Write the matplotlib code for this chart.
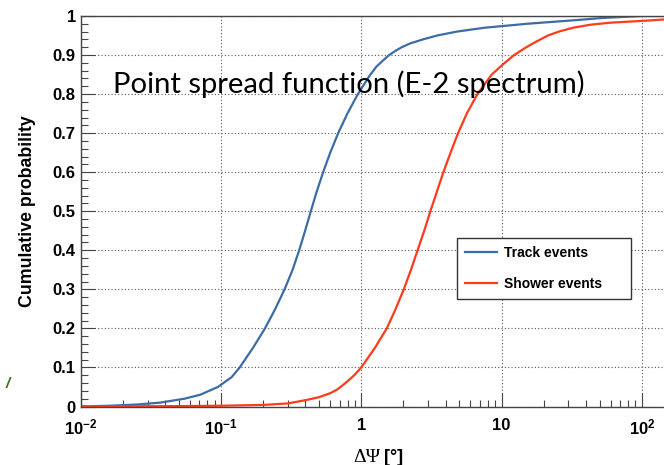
import numpy as np
import matplotlib
matplotlib.use("Agg")
import matplotlib.pyplot as plt
from matplotlib.ticker import FixedLocator, FixedFormatter, MultipleLocator, FuncFormatter

plt.rcParams['font.family'] = ['Liberation Sans', 'DejaVu Sans']
plt.rcParams['mathtext.fontset'] = 'custom'
plt.rcParams['mathtext.rm'] = 'Liberation Sans'
plt.rcParams['mathtext.bf'] = 'Liberation Sans:bold'

# cumulative angular error distributions (deg)
track_psi = [0.01, 0.016, 0.025, 0.037, 0.055, 0.071, 0.095, 0.119, 0.136, 0.169,
             0.206, 0.244, 0.284, 0.324, 0.361, 0.398, 0.437, 0.481, 0.535,
             0.601, 0.685, 0.796, 0.946, 1.16, 1.22, 1.28, 1.37, 1.47, 1.58,
             1.74, 1.94, 2.24, 2.75, 3.47, 4.79, 7.59, 15.1, 35.5, 52.5, 100, 144]
track_prob = [0.0, 0.002, 0.005, 0.01, 0.02, 0.03, 0.05, 0.075, 0.10, 0.15,
              0.20, 0.25, 0.30, 0.35, 0.40, 0.45, 0.50, 0.55, 0.60,
              0.65, 0.70, 0.75, 0.80, 0.85, 0.86, 0.87, 0.88, 0.89, 0.90,
              0.91, 0.92, 0.93, 0.94, 0.95, 0.96, 0.97, 0.98, 0.99, 0.995, 1.0, 1.0]

shower_psi = [0.01, 0.05, 0.1, 0.2, 0.302, 0.41, 0.501, 0.6, 0.67, 0.724, 0.8,
              0.891, 1.0, 1.25, 1.52, 1.76, 2.01, 2.26, 2.52, 2.81, 3.11, 3.46,
              3.85, 4.33, 4.9, 5.65, 6.73, 8.51, 10.3, 12.3, 15.0, 17.8, 21.4,
              26.1, 32.4, 43.7, 60.3, 95.5, 144]
shower_prob = [0.0, 0.001, 0.002, 0.004, 0.008, 0.017, 0.024, 0.034, 0.043,
               0.052, 0.065, 0.08, 0.10, 0.15, 0.20, 0.25, 0.30, 0.35, 0.40,
               0.45, 0.50, 0.55, 0.60, 0.65, 0.70, 0.75, 0.80, 0.85, 0.877,
               0.90, 0.92, 0.935, 0.95, 0.961, 0.97, 0.978, 0.983, 0.987, 0.991]

x_major = [1e-2, 1e-1, 1, 10, 100]
x_major_labels = [r'$\mathbf{10^{-2}}$', r'$\mathbf{10^{-1}}$', '1', '10', r'$\mathbf{10^{2}}$']

fig = plt.figure(figsize=(6.64, 4.65), dpi=100)
ax = fig.add_axes([0.1215, 0.1258, 0.8785, 0.8398])

ax.plot(track_psi, track_prob, color='#3c6ca6', lw=1.6, label='Track events')
ax.plot(shower_psi, shower_prob, color='#ff3b1a', lw=1.6, label='Shower events')

ax.set_xscale('log')
ax.set_xlim(1e-2, 10**2.158)
ax.set_ylim(0, 1)

ax.xaxis.set_major_locator(FixedLocator(x_major))
ax.xaxis.set_major_formatter(FixedFormatter(x_major_labels))
minors = [m * 10.0**e for e in range(-2, 3) for m in range(2, 10)]
ax.xaxis.set_minor_locator(FixedLocator(minors))
ax.xaxis.set_minor_formatter(FuncFormatter(lambda v, p: ''))

ax.yaxis.set_major_locator(MultipleLocator(0.1))
ax.yaxis.set_minor_locator(MultipleLocator(0.02))
ax.yaxis.set_major_formatter(FuncFormatter(lambda v, p: '%g' % round(v, 2)))

ax.tick_params(which='both', direction='in', colors='#444444', labelcolor='black',
               labelsize=12)
ax.tick_params(which='major', length=10, width=0.8)
ax.tick_params(which='minor', length=5, width=0.8)
ax.tick_params(axis='x', which='major', pad=8)
ax.tick_params(axis='y', which='major', pad=3.5)
for lab in ax.get_yticklabels() + ax.get_xticklabels():
    lab.set_fontweight('bold')

ax.grid(which='major', linestyle=(0, (1, 2)), color='#555555', lw=0.8)

for side in ['left', 'bottom', 'top']:
    ax.spines[side].set_color('#444444')
    ax.spines[side].set_linewidth(1.0)
ax.spines['right'].set_visible(False)

ax.set_ylabel('Cumulative probability', fontsize=12.8, fontweight='bold', labelpad=12)

leg = ax.legend(loc='upper left', bbox_to_anchor=(0.6456, 0.431, 0.298, 0.0),
                mode='expand', fancybox=False, framealpha=1, edgecolor='#333333',
                borderaxespad=0, borderpad=0.55, labelspacing=1.25,
                handlelength=2.3, handletextpad=0.5,
                prop={'weight': 'bold', 'size': 10})
leg.get_frame().set_linewidth(1.0)

# axis title in two fonts: Greek symbols and the unit bracket
fig.text(353 / 664, 1 - 461.5 / 465, 'ΔΨ', family='Liberation Serif', fontsize=14,
         ha='left', va='baseline')
fig.text(384 / 664, 1 - 461.5 / 465, '[°]', fontsize=13, fontweight='bold',
         ha='left', va='baseline')

fig.text(113 / 664, 1 - 93 / 465, 'Point spread function (E-2 spectrum)',
         family='Lato', fontsize=21.1, ha='left', va='baseline')

fig.text(6 / 664, 1 - 388 / 465, '/', color='#3a6b1f', fontsize=11,
         style='italic', fontweight='bold')

fig.savefig('out.png', dpi=100)
